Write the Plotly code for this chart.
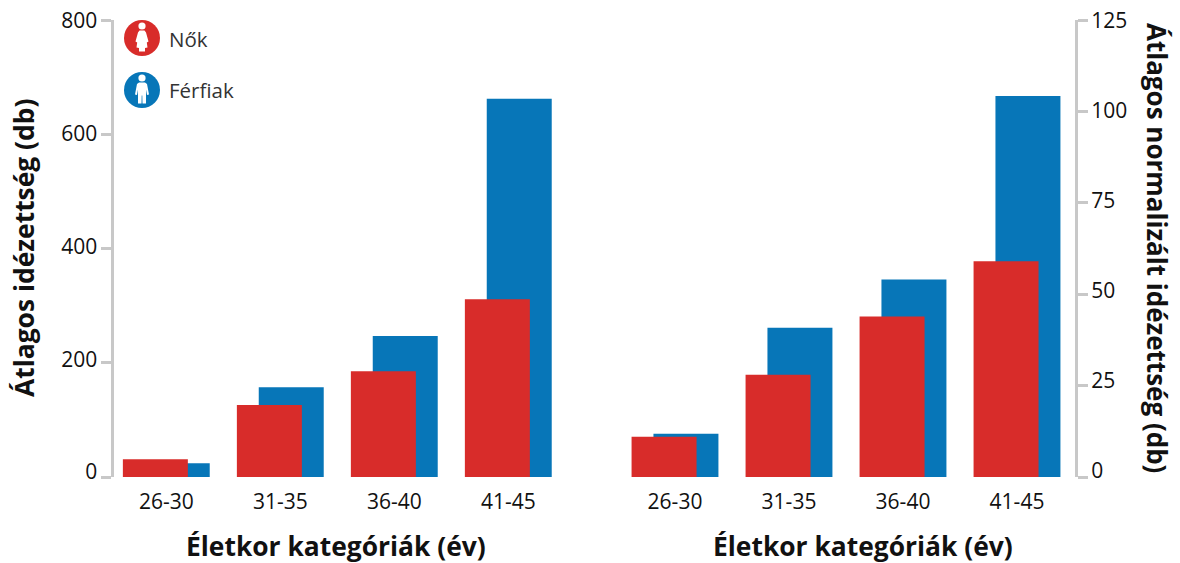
import plotly.graph_objects as go

W, H = 1180, 563

age_groups = ["26-30", "31-35", "36-40", "41-45"]
women_citations = [31, 126, 185, 311]
men_citations = [24, 157, 247, 662]
women_normalized = [11, 28, 43.9, 59]
men_normalized = [11.8, 40.8, 54, 104.2]
citation_ticks = [0, 200, 400, 600, 800]
normalized_ticks = [0, 25, 50, 75, 100, 125]

RED = "#d82c2a"
BLUE = "#0776b8"
GRAY = "#c8c8c8"
TEXT = "#111111"
FONT = "Open Sans"

BAR_WIDTH = 0.57
RED_OFFSET = -0.381
BLUE_OFFSET = -0.189


def px(x):
    return x / W


def py(y):
    return 1 - y / H


def person_path(cx, top, skirt):
    """Pictogram figure in pixel space, converted to paper coordinates."""
    if skirt:
        pts = [(-2.5, 7), (2.5, 7), (4, 9), (6.5, 18), (4.8, 19), (5.5, 24),
               (3, 24.5), (3, 28), (-3, 28), (-3, 24.5), (-5.5, 24), (-4.8, 19),
               (-6.5, 18), (-4, 9)]
    else:
        pts = [(-3, 7), (3, 7), (5, 8.5), (7, 19), (5, 19.5), (4, 14),
               (4, 28), (0.5, 28), (0.3, 20), (-0.3, 20), (-0.5, 28), (-4, 28),
               (-4, 14), (-5, 19.5), (-7, 19), (-5, 8.5)]
    coords = [f"{px(cx + a):.5f},{py(top + b):.5f}" for a, b in pts]
    return "M" + " L".join(coords) + " Z"


def legend_shapes(cx, cy, color, skirt):
    head_r = 3.6
    top = cy - 14.5
    head_cy = top + 2.5
    common = dict(xref="paper", yref="paper", line_width=0, layer="above")
    return [
        dict(type="circle", x0=px(cx - 18), x1=px(cx + 18), y0=py(cy - 18), y1=py(cy + 18),
             fillcolor=color, **common),
        dict(type="circle", x0=px(cx - head_r), x1=px(cx + head_r),
             y0=py(head_cy - head_r), y1=py(head_cy + head_r), fillcolor="white", **common),
        dict(type="path", path=person_path(cx, top, skirt), fillcolor="white", **common),
    ]


fig = go.Figure()


def add_panel(women, men, xaxis, yaxis, label_axis):
    # Men are drawn first so the women's bars overlap them.
    fig.add_bar(x=age_groups, y=men, marker_color=BLUE, marker_line_width=0, width=BAR_WIDTH,
                offset=BLUE_OFFSET, xaxis=xaxis, yaxis=yaxis, name="Férfiak")
    fig.add_bar(x=age_groups, y=women, marker_color=RED, marker_line_width=0, width=BAR_WIDTH,
                offset=RED_OFFSET, xaxis=xaxis, yaxis=yaxis, name="Nők")
    # Empty trace that keeps the separate tick-label axis alive.
    fig.add_scatter(x=age_groups[:1], y=[0], mode="none", xaxis=xaxis, yaxis=label_axis,
                    hoverinfo="skip")


add_panel(women_citations, men_citations, "x", "y", "y3")
add_panel(women_normalized, men_normalized, "x2", "y2", "y4")

y_domain = [py(477), py(20)]
tick_font = dict(family=FONT, size=21, color=TEXT)
title_font = dict(family=FONT, size=26.4, color=TEXT, weight="bold")

x_common = dict(type="category", categoryorder="array", categoryarray=age_groups,
                range=[-0.5, 3.5], showgrid=False, showline=False, zeroline=False,
                ticks="", tickfont=tick_font, ticklabelstandoff=10, automargin=False)
# Axes carrying the line and tick marks.
y_marks = dict(showgrid=False, zeroline=False, showline=True, linecolor=GRAY, linewidth=3,
               ticks="outside", tickcolor=GRAY, tickwidth=3, ticklen=10, showticklabels=False,
               domain=y_domain, anchor="free", automargin=False)
# Axes carrying only the tick labels, set on a slightly tighter span than the marks.
y_labels = dict(showgrid=False, zeroline=False, showline=False, ticks="outside",
                tickcolor="rgba(0,0,0,0)", tickwidth=1, ticklen=10, tickfont=tick_font,
                anchor="free", automargin=False)

fig.update_layout(
    width=W, height=H, autosize=False,
    margin=dict(l=0, r=0, t=0, b=0),
    paper_bgcolor="white", plot_bgcolor="rgba(0,0,0,0)",
    barmode="overlay", showlegend=False,
    xaxis=dict(domain=[px(109.3), px(565.3)], anchor="y", **x_common),
    xaxis2=dict(domain=[px(618), px(1074)], anchor="y2", **x_common),
    yaxis=dict(range=[0, 800], tickvals=citation_ticks, side="left",
               position=px(111.5), **y_marks),
    yaxis2=dict(range=[0, 125], tickvals=normalized_ticks, side="right",
                position=px(1076), **y_marks),
    yaxis3=dict(range=[0, 800], tickvals=citation_ticks, side="left",
                position=px(111.5), domain=[py(472), py(21)], **y_labels),
    yaxis4=dict(range=[0, 125], tickvals=normalized_ticks, side="right",
                position=px(1076), domain=[py(471), py(21)], **y_labels),
    shapes=legend_shapes(142, 38, RED, True) + legend_shapes(142, 90, BLUE, False),
)

annotations = [
    dict(x=px(336), y=py(545.5), text="Életkor kategóriák (év)", font=title_font),
    dict(x=px(863), y=py(545.5), text="Életkor kategóriák (év)", font=title_font),
    dict(x=px(24), y=py(248), text="Átlagos idézettség (db)", font=title_font, textangle=-90),
    dict(x=px(1157), y=py(248), text="Átlagos normalizált idézettség (db)",
         font=dict(family=FONT, size=26, color=TEXT, weight="bold"), textangle=90),
    dict(x=px(167), y=py(39), text="Nők", xanchor="left",
         font=dict(family=FONT, size=20.5, color="#333333")),
    dict(x=px(167), y=py(90), text="Férfiak", xanchor="left",
         font=dict(family=FONT, size=20.5, color="#333333")),
]
for a in annotations:
    a.setdefault("xanchor", "center")
    fig.add_annotation(xref="paper", yref="paper", yanchor="middle", showarrow=False, **a)

fig.write_html("out.html")
